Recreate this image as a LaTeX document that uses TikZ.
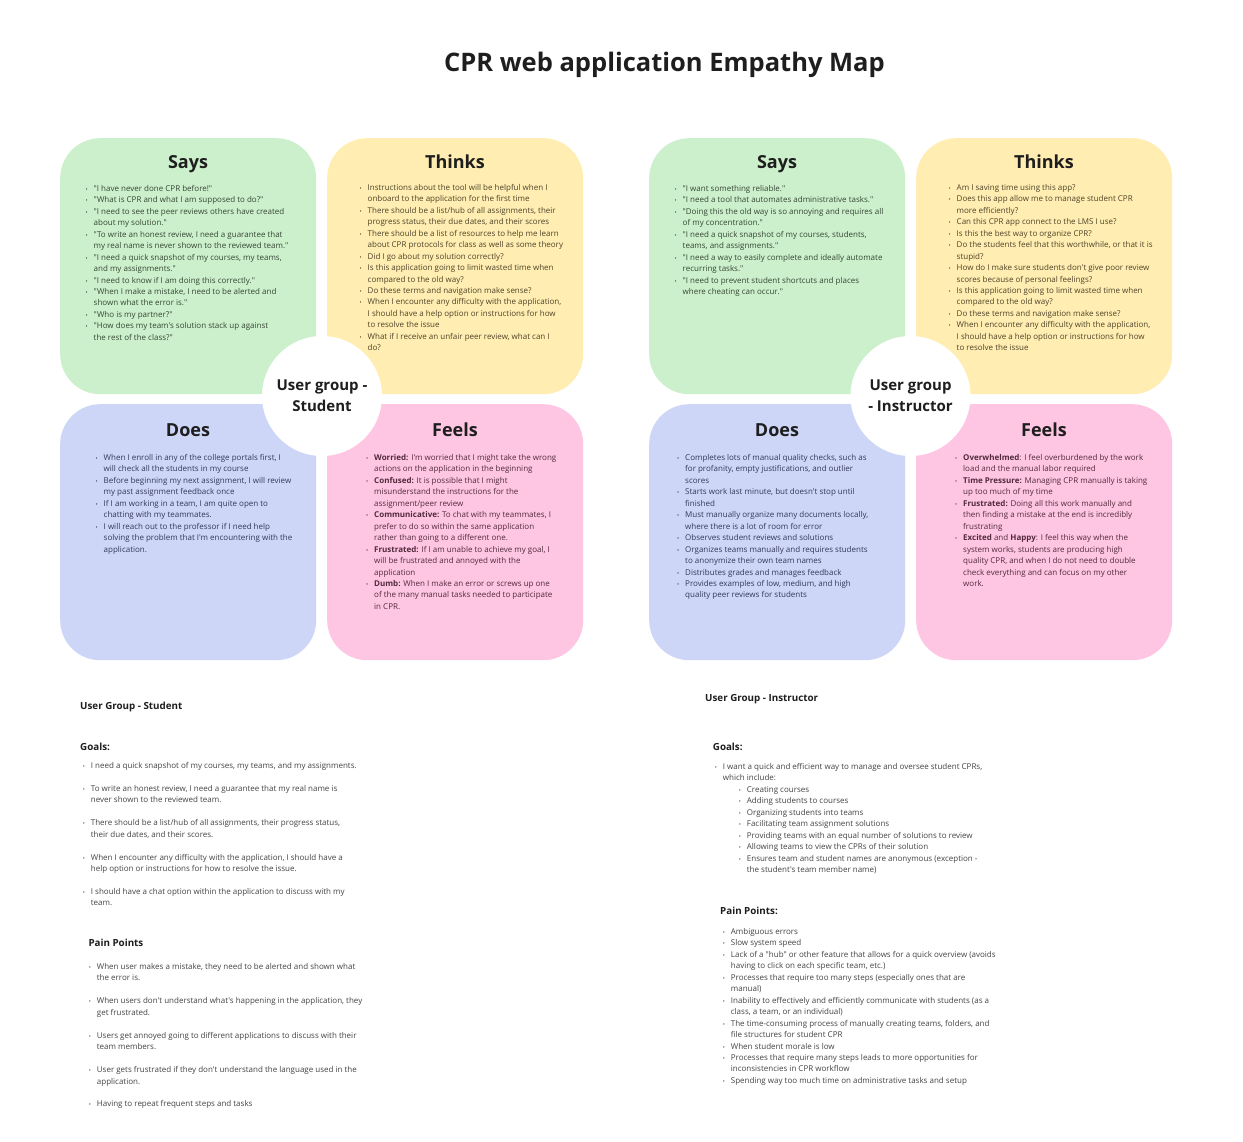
\documentclass[tikz,border=0pt]{standalone}
\usepackage{fontspec}
\setmainfont{Open Sans}[Ligatures=TeXOff]
\usepackage{graphicx}
\definecolor{cgreen}{RGB}{205,240,204}
\definecolor{cyellow}{RGB}{255,237,178}
\definecolor{cblue}{RGB}{206,214,248}
\definecolor{cpink}{RGB}{254,198,226}
\definecolor{tgreen}{RGB}{52,70,52}
\definecolor{tyellow}{RGB}{78,68,40}
\definecolor{tblue}{RGB}{50,56,88}
\definecolor{tpink}{RGB}{82,42,62}
\definecolor{titlec}{RGB}{30,30,30}
\definecolor{bodyc}{RGB}{68,68,68}
\newcommand{\bu}{\llap{\makebox[14pt]{\scalebox{0.7}{\textbullet}}}}
\begin{document}
\begin{tikzpicture}[x=1pt,y=-1pt,
  quad/.style={rounded corners=40pt, draw=none, minimum width=256pt, minimum height=256pt, anchor=north west, inner sep=0pt},
  qtitle/.style={font=\fontsize{18}{20}\selectfont\bfseries, text=titlec, anchor=base},
  lst/.style={anchor=base west, inner sep=0pt, font=\fontsize{8}{11.45}\selectfont},
  hub/.style={circle, fill=white, minimum size=120pt, inner sep=0pt, align=center, text=titlec, font=\fontsize{15}{21}\selectfont\bfseries},
  head/.style={anchor=base west, inner sep=0pt, text=titlec, font=\fontsize{9.8}{11}\selectfont\bfseries},
  subhead/.style={anchor=base west, inner sep=0pt, text=titlec, font=\fontsize{9.8}{11}\selectfont\bfseries},
]
\useasboundingbox (0,0) rectangle (1243,1142);
\fill[white] (0,0) rectangle (1243,1142);

\node[anchor=base, inner sep=0pt, text=titlec, font=\fontsize{25.5}{28}\selectfont\bfseries] (title) at (664.5,72) {CPR web application Empathy Map};

% ---------- Student map ----------
\node[quad, fill=cgreen] (saysL) at (60,138) {};
\node[quad, fill=cyellow] (thinksL) at (327,138) {};
\node[quad, fill=cblue] (doesL) at (60,404) {};
\node[quad, fill=cpink] (feelsL) at (327,404) {};
\node[hub] (hubL) at (322,396) {User group -\\Student};

\node[qtitle] (saysLt) at (188,169) {Says};
\node[qtitle] (thinksLt) at (455,169) {Thinks};
\node[qtitle] (doesLt) at (188,436) {Does};
\node[qtitle] (feelsLt) at (455,436) {Feels};

\node[lst, text=tgreen] (saysLx) at (93.5,191.5) {\begin{tabular}[t]{@{}l@{}}
\bu"I have never done CPR before!"\\
\bu"What is CPR and what I am supposed to do?"\\
\bu"I need to see the peer reviews others have created\\
about my solution."\\
\bu"To write an honest review, I need a guarantee that\\
my real name is never shown to the reviewed team."\\
\bu"I need a quick snapshot of my courses, my teams,\\
and my assignments."\\
\bu"I need to know if I am doing this correctly."\\
\bu"When I make a mistake, I need to be alerted and\\
shown what the error is."\\
\bu"Who is my partner?"\\
\bu"How does my team's solution stack up against\\
the rest of the class?"
\end{tabular}};

\node[lst, text=tyellow] (thinksLx) at (367.5,190.5) {\begin{tabular}[t]{@{}l@{}}
\bu Instructions about the tool will be helpful when I\\
onboard to the application for the first time\\
\bu There should be a list/hub of all assignments, their\\
progress status, their due dates, and their scores\\
\bu There should be a list of resources to help me learn\\
about CPR protocols for class as well as some theory\\
\bu Did I go about my solution correctly?\\
\bu Is this application going to limit wasted time when\\
compared to the old way?\\
\bu Do these terms and navigation make sense?\\
\bu When I encounter any difficulty with the application,\\
I should have a help option or instructions for how\\
to resolve the issue\\
\bu What if I receive an unfair peer review, what can I\\
do?
\end{tabular}};

\node[lst, text=tblue] (doesLx) at (103.5,460.5) {\begin{tabular}[t]{@{}l@{}}
\bu When I enroll in any of the college portals first, I\\
will check all the students in my course\\
\bu Before beginning my next assignment, I will review\\
my past assignment feedback once\\
\bu If I am working in a team, I am quite open to\\
chatting with my teammates.\\
\bu I will reach out to the professor if I need help\\
solving the problem that I'm encountering with the\\
application.
\end{tabular}};

\node[lst, text=tpink] (feelsLx) at (374,460.5) {\begin{tabular}[t]{@{}l@{}}
\bu\textbf{Worried:} I'm worried that I might take the wrong\\
actions on the application in the beginning\\
\bu\textbf{Confused:} It is possible that I might\\
misunderstand the instructions for the\\
assignment/peer review\\
\bu\textbf{Communicative:} To chat with my teammates, I\\
prefer to do so within the same application\\
rather than going to a different one.\\
\bu\textbf{Frustrated:} If I am unable to achieve my goal, I\\
will be frustrated and annoyed with the\\
application\\
\bu\textbf{Dumb:} When I make an error or screws up one\\
of the many manual tasks needed to participate\\
in CPR.
\end{tabular}};

% ---------- Instructor map ----------
\node[quad, fill=cgreen] (saysR) at (649,138) {};
\node[quad, fill=cyellow] (thinksR) at (916,138) {};
\node[quad, fill=cblue] (doesR) at (649,404) {};
\node[quad, fill=cpink] (feelsR) at (916,404) {};
\node[hub] (hubR) at (910.5,396) {User group\\- Instructor};

\node[qtitle] (saysRt) at (777,169) {Says};
\node[qtitle] (thinksRt) at (1044,169) {Thinks};
\node[qtitle] (doesRt) at (777,436) {Does};
\node[qtitle] (feelsRt) at (1044,436) {Feels};

\node[lst, text=tgreen] (saysRx) at (682.5,191.5) {\begin{tabular}[t]{@{}l@{}}
\bu"I want something reliable."\\
\bu"I need a tool that automates administrative tasks."\\
\bu"Doing this the old way is so annoying and requires all\\
of my concentration."\\
\bu"I need a quick snapshot of my courses, students,\\
teams, and assignments."\\
\bu"I need a way to easily complete and ideally automate\\
recurring tasks."\\
\bu"I need to prevent student shortcuts and places\\
where cheating can occur."
\end{tabular}};

\node[lst, text=tyellow] (thinksRx) at (956.5,190.5) {\begin{tabular}[t]{@{}l@{}}
\bu Am I saving time using this app?\\
\bu Does this app allow me to manage student CPR\\
more efficiently?\\
\bu Can this CPR app connect to the LMS I use?\\
\bu Is this the best way to organize CPR?\\
\bu Do the students feel that this worthwhile, or that it is\\
stupid?\\
\bu How do I make sure students don't give poor review\\
scores because of personal feelings?\\
\bu Is this application going to limit wasted time when\\
compared to the old way?\\
\bu Do these terms and navigation make sense?\\
\bu When I encounter any difficulty with the application,\\
I should have a help option or instructions for how\\
to resolve the issue
\end{tabular}};

\node[lst, text=tblue] (doesRx) at (685,460.5) {\begin{tabular}[t]{@{}l@{}}
\bu Completes lots of manual quality checks, such as\\
for profanity, empty justifications, and outlier\\
scores\\
\bu Starts work last minute, but doesn't stop until\\
finished\\
\bu Must manually organize many documents locally,\\
where there is a lot of room for error\\
\bu Observes student reviews and solutions\\
\bu Organizes teams manually and requires students\\
to anonymize their own team names\\
\bu Distributes grades and manages feedback\\
\bu Provides examples of low, medium, and high\\
quality peer reviews for students
\end{tabular}};

\node[lst, text=tpink] (feelsRx) at (963,460.5) {\begin{tabular}[t]{@{}l@{}}
\bu\textbf{Overwhelmed}: I feel overburdened by the work\\
load and the manual labor required\\
\bu\textbf{Time Pressure:} Managing CPR manually is taking\\
up too much of my time\\
\bu\textbf{Frustrated:} Doing all this work manually and\\
then finding a mistake at the end is incredibly\\
frustrating\\
\bu\textbf{Excited} and \textbf{Happy}: I feel this way when the\\
system works, students are producing high\\
quality CPR, and when I do not need to double\\
check everything and can focus on my other\\
work.
\end{tabular}};

% ---------- Student notes ----------
\node[head] (ugS) at (80,709) {User Group - Student};
\node[subhead] (goalsS) at (80,750) {Goals:};
\node[lst, text=bodyc] (goalsSx) at (90.7,768.5) {\begin{tabular}[t]{@{}l@{}}
\bu I need a quick snapshot of my courses, my teams, and my assignments.\\
\mbox{}\\
\bu To write an honest review, I need a guarantee that my real name is\\
never shown to the reviewed team.\\
\mbox{}\\
\bu There should be a list/hub of all assignments, their progress status,\\
their due dates, and their scores.\\
\mbox{}\\
\bu When I encounter any difficulty with the application, I should have a\\
help option or instructions for how to resolve the issue.\\
\mbox{}\\
\bu I should have a chat option within the application to discuss with my\\
team.
\end{tabular}};

\node[subhead] (painS) at (88.3,946) {Pain Points};
\node[lst, text=bodyc] (painSx) at (96.7,969.5) {\begin{tabular}[t]{@{}l@{}}
\bu When user makes a mistake, they need to be alerted and shown what\\
the error is.\\
\mbox{}\\
\bu When users don't understand what's happening in the application, they\\
get frustrated.\\
\mbox{}\\
\bu Users get annoyed going to different applications to discuss with their\\
team members.\\
\mbox{}\\
\bu User gets frustrated if they don't understand the language used in the\\
application.\\
\mbox{}\\
\bu Having to repeat frequent steps and tasks
\end{tabular}};

% ---------- Instructor notes ----------
\node[head] (ugI) at (705,701) {User Group - Instructor};
\node[subhead] (goalsI) at (712.7,750) {Goals:};
\node[lst, text=bodyc] (goalsIx) at (722.7,769.5) {\begin{tabular}[t]{@{}l@{}}
\bu I want a quick and efficient way to manage and oversee student CPRs,\\
which include:\\
\hspace*{24pt}\bu Creating courses\\
\hspace*{24pt}\bu Adding students to courses\\
\hspace*{24pt}\bu Organizing students into teams\\
\hspace*{24pt}\bu Facilitating team assignment solutions\\
\hspace*{24pt}\bu Providing teams with an equal number of solutions to review\\
\hspace*{24pt}\bu Allowing teams to view the CPRs of their solution\\
\hspace*{24pt}\bu Ensures team and student names are anonymous (exception -\\
\hspace*{24pt}the student's team member name)
\end{tabular}};

\node[subhead] (painI) at (720,914) {Pain Points:};
\node[lst, text=bodyc] (painIx) at (730.7,934.5) {\begin{tabular}[t]{@{}l@{}}
\bu Ambiguous errors\\
\bu Slow system speed\\
\bu Lack of a "hub" or other feature that allows for a quick overview (avoids\\
having to click on each specific team, etc.)\\
\bu Processes that require too many steps (especially ones that are\\
manual)\\
\bu Inability to effectively and efficiently communicate with students (as a\\
class, a team, or an individual)\\
\bu The time-consuming process of manually creating teams, folders, and\\
file structures for student CPR\\
\bu When student morale is low\\
\bu Processes that require many steps leads to more opportunities for\\
inconsistencies in CPR workflow\\
\bu Spending way too much time on administrative tasks and setup
\end{tabular}};
\end{tikzpicture}
\end{document}
